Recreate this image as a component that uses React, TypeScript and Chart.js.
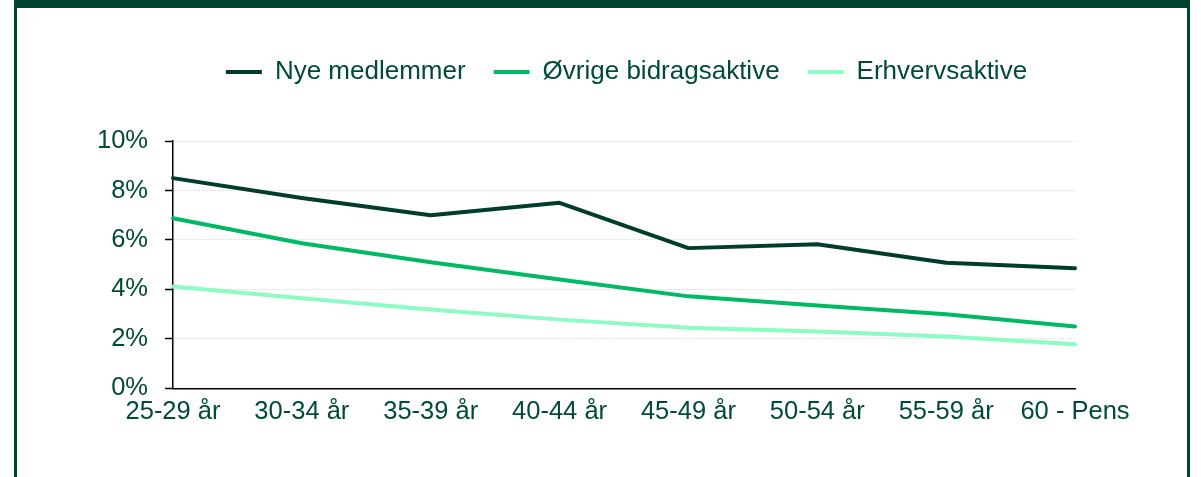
import React, { useEffect, useRef } from "react";
import { Chart, registerables } from "chart.js";

Chart.register(...registerables);

const categories = ["25-29 år", "30-34 år", "35-39 år", "40-44 år", "45-49 år", "50-54 år", "55-59 år", "60 - Pens"];
const nyeMedlemmer = [8.5, 7.7, 7.0, 7.5, 5.67, 5.83, 5.08, 4.86];
const ovrigeBidragsaktive = [6.88, 5.87, 5.1, 4.4, 3.72, 3.35, 3.0, 2.5];
const erhvervsaktive = [4.12, 3.64, 3.19, 2.78, 2.45, 2.3, 2.1, 1.78];
const yTicks = [0, 2, 4, 6, 8, 10];

const TEXT = "#004B35";
const FONT = "'Liberation Sans', Arial, sans-serif";

export default function App() {
  const ref = useRef<HTMLCanvasElement | null>(null);

  useEffect(() => {
    if (!ref.current) return;
    const legendTweak = {
      id: "legendTweak",
      beforeInit(chart: any) {
        const legend = chart.legend;
        if (!legend) return;
        const orig = legend.fit.bind(legend);
        legend.fit = function () {
          orig();
          this.height = 110;
        };
      },
      afterLayout(chart: any) {
        const legend = chart.legend;
        if (!legend) return;
        legend.left += 42.5;
        legend.right += 42.5;
      },
    };
    const chart = new Chart(ref.current, {
      type: "line",
      data: {
        labels: categories,
        datasets: [
          { label: "Nye medlemmer", data: nyeMedlemmer, borderColor: "#003D2C", backgroundColor: "#003D2C" },
          { label: "Øvrige bidragsaktive", data: ovrigeBidragsaktive, borderColor: "#00B964", backgroundColor: "#00B964" },
          { label: "Erhvervsaktive", data: erhvervsaktive, borderColor: "#8CFBC4", backgroundColor: "#8CFBC4" },
        ],
      },
      options: {
        animation: false,
        responsive: false,
        maintainAspectRatio: false,
        layout: { padding: { left: 93, right: 126, top: 31, bottom: 42 } },
        elements: {
          line: { borderWidth: 4, tension: 0, borderCapStyle: "round", borderJoinStyle: "round" },
          point: { radius: 0, hoverRadius: 0 },
        },
        plugins: {
          tooltip: { enabled: false },
          legend: {
            position: "top",
            labels: {
              boxWidth: 36,
              boxHeight: 4,
              padding: 28,
              color: TEXT,
              font: { family: FONT, size: 26 },
              generateLabels(chart: any) {
                const items = Chart.defaults.plugins.legend.labels.generateLabels(chart);
                return items.map((it: any) => ({ ...it, lineWidth: 0 }));
              },
            },
          },
        },
        scales: {
          x: {
            offset: false,
            grid: { display: true, drawOnChartArea: false, drawTicks: false },
            border: { display: true, color: "#000000", width: 1.5 },
            ticks: { color: TEXT, font: { family: FONT, size: 25.5 }, padding: 8, maxRotation: 0, autoSkip: false },
          },
          y: {
            min: 0,
            max: 10,
            afterFit(scale: any) {
              scale.width = 80;
            },
            afterBuildTicks(scale: any) {
              scale.ticks = yTicks.map((v) => ({ value: v }));
            },
            grid: {
              color: "#D9D9D9",
              lineWidth: 1,
              tickLength: 8,
              tickColor: "#000000",
              tickWidth: 1.5,
              tickBorderDash: [100, 0],
            },
            border: { display: true, color: "#000000", width: 1.5, dash: [2, 2] as any },
            ticks: {
              color: TEXT,
              font: { family: FONT, size: 25.5 },
              padding: 17,
              callback: (v: any) => v + "%",
            },
          },
        },
      },
      plugins: [legendTweak],
    });
    return () => chart.destroy();
  }, []);

  return (
    <div style={{ position: "absolute", left: 0, top: 0, width: 1201, height: 477, overflow: "hidden", background: "#fff" }}>
      <div
        style={{
          position: "absolute",
          left: 14,
          top: 0,
          width: 1176,
          height: 700,
          boxSizing: "border-box",
          borderLeft: "3px solid #004233",
          borderRight: "3px solid #004233",
          borderTop: "8px solid #004233",
        }}
      />
      <canvas ref={ref} width={1201} height={477} style={{ position: "absolute", left: 0, top: 0, width: 1201, height: 477 }} />
    </div>
  );
}
